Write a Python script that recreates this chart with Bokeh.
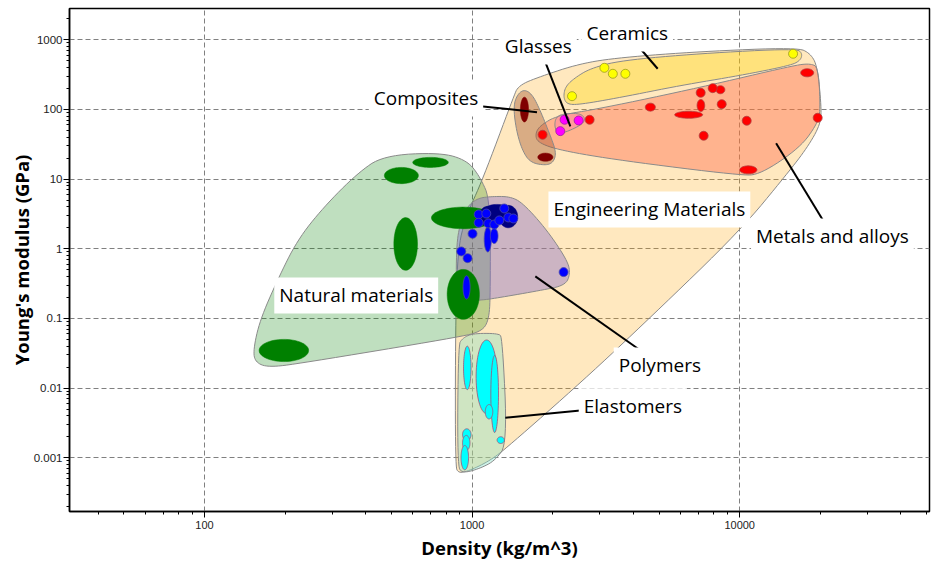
import numpy as np
from bokeh.plotting import figure
from bokeh.models import Range1d, FixedTicker, Label
from bokeh.embed import file_html
from bokeh.resources import INLINE

# ---------------- axes ----------------
x_lim = (31.3, 51200)
y_lim = (0.000169, 2812)
x_major = [100, 1000, 10000]
x_major_labels = ["100", "1000", "10000"]
y_major = [0.001, 0.01, 0.1, 1, 10, 100, 1000]
y_major_labels = ["0.001", "0.01", "0.1", "1", "10", "100", "1000"]

# ---------------- family envelopes (density kg/m^3, modulus GPa) ----------------
eng_d = [1489, 1798, 2538, 3581, 7130, 16430, 18380, 19520, 20200, 20030, 17910, 15080, 10060,
         4637, 2604, 1354, 1170, 985, 888, 866, 866, 881, 951, 1092, 1426]
eng_E = [221, 297, 457, 557, 679, 775, 636, 414, 107, 60.8, 28.5, 12.05, 1.83,
         0.103, 0.0129, 0.00141, 0.000915, 0.000658, 0.000596, 0.000776, 0.0483, 0.946, 3.01, 9.56, 148.5]

nat_env_d = [152, 155, 173, 228, 881, 1092, 1159, 1170, 1170, 1073, 960, 761, 466, 372, 278, 222, 187, 161]
nat_env_E = [0.0347, 0.0234, 0.0198, 0.0226, 0.0534, 0.0651, 0.0999, 0.252, 4.94, 10.6, 18.5, 24.1,
             21.8, 12.05, 3.92, 1.32, 0.351, 0.0935]

cer_env_d = [2193, 2231, 2431, 2767, 3581, 7130, 16290, 17150, 16860, 15470, 10060, 6000, 3581, 2538, 2269]
cer_env_E = [148.5, 213.6, 287.5, 387.4, 504.5, 636, 750, 636, 504.5, 427.8, 307.3, 220.8, 148.5, 117.9, 117.9]

met_env_d = [1753, 2136, 3581, 10060, 11950, 16860, 19520, 20030, 19690, 18380, 15880, 7130, 3015, 2082, 1798, 1723]
met_env_E = [33.6, 25.8, 18.5, 11.28, 11.66, 28.5, 62.9, 96.6, 400, 457, 428, 207, 103, 81.9, 58.9, 45.2]

comp_env_d = [1426, 1476, 1567, 1679, 1798, 1960, 2064, 2012, 1878, 1650, 1540, 1463]
comp_env_E = [110, 164, 194, 164, 96.6, 42.3, 24.1, 17.3, 15.7, 17.3, 25.8, 49.9]

gl_env_d = [2064, 2231, 2538, 2649, 2582, 2231, 2082, 2029]
gl_env_E = [79.3, 87.5, 87.5, 74.2, 60.8, 46.7, 45.2, 58.9]

poly_env_d = [873, 873, 904, 960, 1045, 1170, 1389, 1554, 1910, 2269, 2329, 2231, 1798, 1275, 1073]
poly_env_E = [0.181, 1.116, 2.386, 4.05, 5.27, 5.63, 5.63, 4.47, 1.832, 0.680, 0.442, 0.2975, 0.252, 0.200, 0.181]

ela_env_d = [881, 888, 919, 1002, 1253, 1297, 1354, 1221, 1073, 919]
ela_env_E = [0.000776, 0.041, 0.0516, 0.0609, 0.0609, 0.0534, 0.00161, 0.000915, 0.000703, 0.000596]

# ---------------- materials: ranges (ellipses) ----------------
nat_dlo = [160, 470, 600, 510, 705, 807]
nat_dhi = [245, 630, 815, 625, 1220, 1065]
nat_elo = [0.024, 8.6, 14.7, 0.49, 1.94, 0.097]
nat_ehi = [0.05, 14.7, 20.5, 2.8, 3.96, 0.505]

navy_dlo = [1090, 1260, 1065]
navy_dhi = [1410, 1480, 1220]
navy_elo = [2.55, 2.0, 2.1]
navy_ehi = [4.33, 4.2, 4.05]

poly_dlo = [1110, 1170, 925]
poly_dhi = [1180, 1250, 983]
poly_elo = [0.90, 1.19, 0.19]
poly_ehi = [2.06, 1.96, 0.41]

ela_dlo = [929, 1035, 1175, 1120, 1240, 921, 921, 909]
ela_dhi = [991, 1240, 1255, 1195, 1320, 991, 982, 970]
ela_elo = [0.0095, 0.0043, 0.0023, 0.0036, 0.0016, 0.00177, 0.00127, 0.00067]
ela_ehi = [0.040, 0.049, 0.0294, 0.0058, 0.0020, 0.0026, 0.00209, 0.0015]

comp_dlo = [1515, 1760]
comp_dhi = [1625, 2005]
comp_elo = [66, 18]
comp_ehi = [150, 23.6]

met_dlo = [4440, 5715, 6930, 8150, 16900, 10000]
met_dhi = [4840, 7270, 7400, 8800, 18900, 11600]
met_elo = [94.5, 74.7, 93.5, 168, 294, 11.9]
met_ehi = [123, 94.1, 139, 219, 384, 15.5]

# ---------------- materials: single points ----------------
poly_d = [1058, 1058, 1004, 911, 962, 2198, 1150, 1211, 1319, 1366, 1426, 1264, 1130]
poly_E = [3.11, 2.36, 1.64, 0.915, 0.733, 0.462, 2.31, 2.23, 3.79, 2.81, 2.72, 2.55, 3.2]
cer_d = [2363, 3121, 3357, 3739, 15830]
cer_E = [155, 396, 325, 325, 630]
gl_d = [2217, 2501, 2136]
gl_E = [71.1, 69.4, 48.8]
met_d = [1834, 2749, 7148, 7928, 8566, 7334, 10622, 19565]
met_E = [43.3, 71.1, 173.5, 202, 119, 41.9, 68.8, 75.9]

# ---------------- annotations ----------------
labels = ["Ceramics", "Glasses", "Composites", "Engineering Materials", "Metals and alloys",
          "Natural materials", "Polymers", "Elastomers"]
label_d = [3804, 1768, 672.5, 4597, 22210, 369, 5030, 3988]
label_E = [1231, 801, 143.7, 3.67, 1.502, 0.2138, 0.02114, 0.00546]
lead_d0 = [4280, 1878, 1098, 3890, 13680, 1723, 1331]
lead_E0 = [725.6, 477, 110.3, 2.30, 32.8, 0.4006, 0.003756]
lead_d1 = [4938, 2329, 1748, 3920, 20500, 4172, 2538]
lead_E1 = [383.6, 56.96, 91.4, 2.15, 2.55, 0.0367, 0.00478]


def chaikin(xs, ys, n=3):
    pts = np.column_stack([np.log10(xs), np.log10(ys)])
    for _ in range(n):
        nxt = np.roll(pts, -1, axis=0)
        q = 0.75 * pts + 0.25 * nxt
        r = 0.25 * pts + 0.75 * nxt
        out = np.empty((2 * len(pts), 2))
        out[0::2] = q
        out[1::2] = r
        pts = out
    return list(10 ** pts[:, 0]), list(10 ** pts[:, 1])


def ellipses(dlo, dhi, elo, ehi):
    t = np.linspace(0, 2 * np.pi, 64)
    xs, ys = [], []
    for a, b, c, d in zip(dlo, dhi, elo, ehi):
        cx = (np.log10(a) + np.log10(b)) / 2
        rx = (np.log10(b) - np.log10(a)) / 2
        cy = (np.log10(c) + np.log10(d)) / 2
        ry = (np.log10(d) - np.log10(c)) / 2
        xs.append(list(10 ** (cx + rx * np.cos(t))))
        ys.append(list(10 ** (cy + ry * np.sin(t))))
    return xs, ys


p = figure(width=936, height=565, x_axis_type="log", y_axis_type="log",
           x_range=Range1d(*x_lim), y_range=Range1d(*y_lim),
           output_backend="svg", toolbar_location=None,
           min_border_left=69, min_border_right=7, min_border_top=8, min_border_bottom=54)
p.background_fill_color = "white"
p.outline_line_color = "black"
p.outline_line_width = 1.5

x_minor = [m * 10 ** k for k in range(1, 5) for m in range(2, 10) if x_lim[0] <= m * 10 ** k <= x_lim[1]]
y_minor = [m * 10.0 ** k for k in range(-4, 4) for m in range(2, 10) if y_lim[0] <= m * 10.0 ** k <= y_lim[1]]
p.xaxis.ticker = FixedTicker(ticks=x_major, minor_ticks=x_minor)
p.yaxis.ticker = FixedTicker(ticks=y_major, minor_ticks=y_minor)
p.xaxis.major_label_overrides = dict(zip(x_major, x_major_labels))
p.yaxis.major_label_overrides = dict(zip(y_major, y_major_labels))

for ax in (p.xaxis, p.yaxis):
    ax.axis_line_width = 1.5
    ax.axis_line_color = "black"
    ax.major_tick_out = 6
    ax.major_tick_in = 0
    ax.minor_tick_out = 3
    ax.minor_tick_in = 0
    ax.major_tick_line_color = "black"
    ax.minor_tick_line_color = "black"
    ax.major_label_text_font = "Liberation Sans"
    ax.major_label_text_color = "#222222"
    ax.axis_label_text_font = "Open Sans"
    ax.axis_label_text_font_style = "bold"
    ax.axis_label_text_font_size = "18.5px"
    ax.axis_label_text_color = "black"
p.xaxis.major_label_text_font_size = "11px"
p.yaxis.major_label_text_font_size = "11.5px"
p.xaxis.major_label_standoff = 3
p.yaxis.major_label_standoff = 1
p.xaxis.axis_label_standoff = 3
p.yaxis.axis_label_standoff = -3
p.xaxis.axis_label = "Density (kg/m^3)"
p.yaxis.axis_label = "Young's modulus (GPa)"

for g in (p.xgrid, p.ygrid):
    g.grid_line_color = "#808080"
    g.grid_line_dash = "5 3"
    g.grid_line_width = 1

env_style = dict(line_color="#8a8a8a", line_width=1)
for d, e, col, a in [
    (eng_d, eng_E, "#FFA500", 0.25),
    (nat_env_d, nat_env_E, "#008000", 0.25),
    (cer_env_d, cer_env_E, "#FFD700", 0.35),
    (met_env_d, met_env_E, "#FF6347", 0.40),
    (comp_env_d, comp_env_E, "#A0522D", 0.40),
    (gl_env_d, gl_env_E, "#FF69B4", 0.30),
    (poly_env_d, poly_env_E, "#8067cb", 0.40),
    (ela_env_d, ela_env_E, "#87e1c9", 0.40),
]:
    sx, sy = chaikin(d, e)
    p.patch(sx, sy, fill_color=col, fill_alpha=a, **env_style)

# natural materials
xs, ys = ellipses(nat_dlo, nat_dhi, nat_elo, nat_ehi)
p.patches(xs, ys, fill_color="#008000", line_color="#008000", line_width=0.5)
# polymers
xs, ys = ellipses(navy_dlo, navy_dhi, navy_elo, navy_ehi)
p.patches(xs, ys, fill_color="#000080", line_color="#000080", line_width=0.5)
xs, ys = ellipses(poly_dlo, poly_dhi, poly_elo, poly_ehi)
p.patches(xs, ys, fill_color="#0000FF", line_color="#4a4aa8", line_width=0.8)
p.scatter(poly_d, poly_E, size=9, marker="circle", fill_color="#0000FF", line_color="#4a4aa8", line_width=0.8)
# elastomers
xs, ys = ellipses(ela_dlo, ela_dhi, ela_elo, ela_ehi)
p.patches(xs, ys, fill_color="#00FFFF", line_color="#a0507a", line_width=0.8)
# composites
xs, ys = ellipses(comp_dlo, comp_dhi, comp_elo, comp_ehi)
p.patches(xs, ys, fill_color="#800000", line_color="#800000", line_width=0.5)
# metals
xs, ys = ellipses(met_dlo, met_dhi, met_elo, met_ehi)
p.patches(xs, ys, fill_color="#FF0000", line_color="#b04040", line_width=0.8)
p.scatter(met_d, met_E, size=9, marker="circle", fill_color="#FF0000", line_color="#b04040", line_width=0.8)
# ceramics & glasses
p.scatter(cer_d, cer_E, size=9, marker="circle", fill_color="#FFFF00", line_color="#9a9a20", line_width=0.8)
p.scatter(gl_d, gl_E, size=9, marker="circle", fill_color="#FF00FF", line_color="#a020a0", line_width=0.8)

# leader lines
p.segment(lead_d0, lead_E0, lead_d1, lead_E1, line_color="black", line_width=2)

for t, x, y in zip(labels, label_d, label_E):
    p.add_layout(Label(x=x, y=y, text=t, text_align="center", text_baseline="middle",
                       text_font="Open Sans", text_font_size="19px", text_color="black",
                       background_fill_color="white", background_fill_alpha=1.0, padding=5))

open("out.html", "w").write(file_html(p, INLINE))
